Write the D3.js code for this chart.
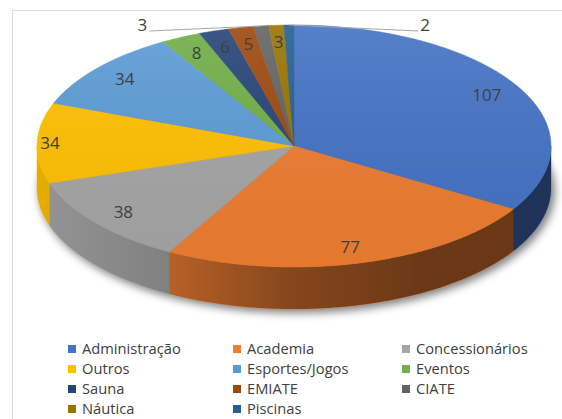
<!DOCTYPE html>
<html>
<head>
<meta charset="utf-8">
<script src="https://cdn.jsdelivr.net/npm/d3@7"></script>
<style>
	body { margin: 0; background: #ffffff; }
	text { font-family: "Open Sans", "Noto Sans", sans-serif; fill: #404040; }
</style>
</head>
<body>
<div id="chart"></div>
<script>

// data
var categories = ["Administração", "Academia", "Concessionários", "Outros", "Esportes/Jogos",
	"Eventos", "Sauna", "EMIATE", "CIATE", "Náutica", "Piscinas"];
var values = [107, 77, 38, 34, 34, 8, 6, 5, 3, 3, 2];
var colors = ["#4472c4", "#ed7d31", "#a5a5a5", "#ffc000", "#5b9bd5",
	"#70ad47", "#264478", "#9e480e", "#636363", "#997300", "#255e91"];

// sizes of the svg and the tilted pie
var width = 562,
	height = 419,
	pie3d = {cx: 294, cy: 146, rx: 257, ry: 121, depth: 42};

var svg = d3.select("#chart").append("svg")
	.attr("width", width)
	.attr("height", height);

var defs = svg.append("defs");

// scales from unit circle to the flattened ellipse
var x = d3.scaleLinear().domain([-1, 1]).range([pie3d.cx - pie3d.rx, pie3d.cx + pie3d.rx]),
	y = d3.scaleLinear().domain([-1, 1]).range([pie3d.cy - pie3d.ry, pie3d.cy + pie3d.ry]);

var color = d3.scaleOrdinal().domain(categories).range(colors);

var slices = d3.pie().sort(null).value(function(d){ return d; })(values);

// point on the rim for angle a (0 = top, clockwise), k = radius fraction
function rim(a, k, drop){

	return [x(Math.sin(a) * k), y(-Math.cos(a) * k) + (drop || 0)];
}

function arcPoints(a0, a1, drop){

	var n = Math.max(2, Math.ceil((a1 - a0) / 0.01)),
		pts = [];
	for (var i = 0; i <= n; i++){
		pts.push(rim(a0 + (a1 - a0) * i / n, 1, drop));
	}
	return pts;
}

function topPath(a0, a1){

	var pts = [[x(0), y(0)]].concat(arcPoints(a0, a1, 0));
	return d3.line()(pts) + "Z";
}

function sidePath(a0, a1){

	var top = arcPoints(a0, a1, 0),
		bottom = arcPoints(a0, a1, pie3d.depth).reverse();
	return d3.line()(top.concat(bottom)) + "Z";
}

// chart frame
svg.append("rect")
	.attr("x", 12.5)
	.attr("y", 10.5)
	.attr("width", 600)
	.attr("height", 500)
	.style("fill", "none")
	.style("stroke", "#d9d9d9");

// soft shadow under the pie
defs.append("filter")
	.attr("id", "blur")
	.attr("x", "-20%").attr("y", "-20%")
	.attr("width", "140%").attr("height", "140%")
	.append("feGaussianBlur")
	.attr("stdDeviation", 4);

svg.append("ellipse")
	.attr("cx", pie3d.cx + 3)
	.attr("cy", pie3d.cy + pie3d.depth + 3)
	.attr("rx", pie3d.rx + 1)
	.attr("ry", pie3d.ry + 1)
	.style("fill", "#000")
	.style("opacity", 0.5)
	.attr("filter", "url(#blur)");

// darkening of the side, stronger towards the right
var sideShade = defs.append("linearGradient")
	.attr("id", "sideShade")
	.attr("gradientUnits", "userSpaceOnUse")
	.attr("x1", x(-1)).attr("x2", x(1))
	.attr("y1", 0).attr("y2", 0);

[[0, 0.1], [0.25, 0.22], [0.5, 0.44], [0.75, 0.55], [1, 0.55]].forEach(function(s){

	sideShade.append("stop")
		.attr("offset", s[0])
		.attr("stop-color", "#000")
		.attr("stop-opacity", s[1]);
});

var topShade = defs.append("linearGradient")
	.attr("id", "topShade")
	.attr("x1", 0).attr("x2", 0)
	.attr("y1", 0).attr("y2", 1);

topShade.append("stop").attr("offset", 0).attr("stop-color", "#fff").attr("stop-opacity", 0.1);
topShade.append("stop").attr("offset", 1).attr("stop-color", "#000").attr("stop-opacity", 0.04);

// sides, only the front half shows
var sides = svg.append("g").attr("class", "sides");

slices.forEach(function(d, i){

	var a0 = Math.max(d.startAngle, Math.PI / 2),
		a1 = Math.min(d.endAngle, 3 * Math.PI / 2);
	if (a0 >= a1) return;

	sides.append("path")
		.attr("d", sidePath(a0, a1))
		.style("fill", color(categories[i]))
		.style("stroke", color(categories[i]))
		.style("stroke-width", 0.5);
});

sides.append("path")
	.attr("d", sidePath(Math.PI / 2, 3 * Math.PI / 2))
	.style("fill", "url(#sideShade)");

// top faces
var tops = svg.append("g").attr("class", "tops");

tops.selectAll("path")
	.data(slices)
	.enter()
	.append("path")
	.attr("d", function(d){

		return topPath(d.startAngle, d.endAngle);
	})
	.style("fill", function(d, i){

		return color(categories[i]);
	})
	.style("stroke", function(d, i){

		return color(categories[i]);
	})
	.style("stroke-width", 0.5);

tops.append("path")
	.attr("d", topPath(0, 2 * Math.PI))
	.style("fill", "url(#topShade)");

// value labels, a few are placed by hand like excel did
var labelRadius = 0.86,
	labelTweak = {
		"Outros": {k: 0.95},
		"CIATE": {at: [-0.59, -1.0], line: -1},
		"Piscinas": {at: [0.51, -1.0], line: 1}
	};

var labels = svg.append("g").attr("class", "labels");

slices.forEach(function(d, i){

	var mid = (d.startAngle + d.endAngle) / 2,
		tw = labelTweak[categories[i]] || {},
		pos;

	if (tw.at){
		pos = [x(tw.at[0]), y(tw.at[1])];

		// leader line from label to the rim
		var end = rim(mid, 1);
		labels.append("line")
			.attr("x1", pos[0] + (tw.line < 0 ? 7 : -7))
			.attr("y1", pos[1] + 6)
			.attr("x2", end[0])
			.attr("y2", end[1])
			.style("stroke", "#a6a6a6")
			.style("stroke-width", 1);
	} else {
		pos = rim(mid, tw.k || labelRadius);
	}

	labels.append("text")
		.attr("x", pos[0])
		.attr("y", pos[1])
		.attr("dy", "0.35em")
		.attr("text-anchor", "middle")
		.style("font-size", "17px")
		.text(values[i]);
});

// legend, three columns
var legendCol = d3.scaleOrdinal().domain([0, 1, 2]).range([68, 233, 402]),
	legendRow = d3.scaleLinear().domain([0, 1]).range([349, 369]);

var legend = svg.append("g").attr("class", "legend")
	.selectAll("g")
	.data(categories)
	.enter()
	.append("g")
	.attr("transform", function(d, i){

		return "translate(" + legendCol(i % 3) + "," + legendRow(Math.floor(i / 3)) + ")";
	});

legend.append("rect")
	.attr("x", 0)
	.attr("y", -4)
	.attr("width", 8)
	.attr("height", 8)
	.style("fill", function(d){

		return color(d);
	});

legend.append("text")
	.attr("x", 14)
	.attr("y", 0)
	.attr("dy", "0.35em")
	.style("font-size", "14.7px")
	.text(function(d){

		return d;
	});

</script>
</body>
</html>
